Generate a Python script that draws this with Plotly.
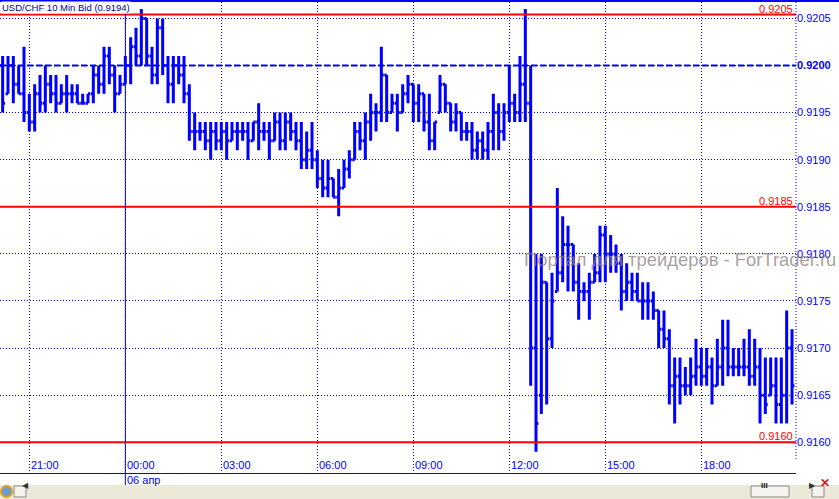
import pandas as pd
import plotly.graph_objects as go

# ---------------- data (USD/CHF, 10-minute bid bars) ----------------
start_time = "2011-04-05 20:10"
n_bars = 149
bar_times = pd.date_range(start_time, periods=n_bars, freq="10min")

bar_open = [
    0.9200, 0.9197, 0.9200, 0.9198, 0.9197, 0.9195, 0.9194, 0.9197, 0.9196, 0.9198,
    0.9197, 0.9196, 0.9197, 0.9197, 0.9197, 0.9196, 0.9196, 0.9197, 0.9199, 0.9198,
    0.9201, 0.9199, 0.9197, 0.9198, 0.9200, 0.9202, 0.9201, 0.9205, 0.9201, 0.9199,
    0.9204, 0.9200, 0.9198, 0.9200, 0.9199, 0.9197, 0.9193, 0.9193, 0.9193, 0.9192,
    0.9193, 0.9192, 0.9193, 0.9192, 0.9193, 0.9193, 0.9193, 0.9192, 0.9194, 0.9193,
    0.9193, 0.9192, 0.9194, 0.9192, 0.9194, 0.9193, 0.9192, 0.9190, 0.9191, 0.9190,
    0.9188, 0.9187, 0.9188, 0.9186, 0.9187, 0.9189, 0.9190, 0.9193, 0.9192, 0.9194,
    0.9195, 0.9195, 0.9199, 0.9195, 0.9196, 0.9195, 0.9197, 0.9198, 0.9196, 0.9197,
    0.9194, 0.9192, 0.9195, 0.9198, 0.9196, 0.9194, 0.9195, 0.9193, 0.9193, 0.9191,
    0.9192, 0.9191, 0.9193, 0.9195, 0.9193, 0.9195, 0.9196, 0.9195, 0.9198, 0.9196,
    0.9170, 0.9165, 0.9177, 0.9171, 0.9176, 0.9178, 0.9181, 0.9181, 0.9177, 0.9176,
    0.9176, 0.9177, 0.9178, 0.9182, 0.9180, 0.9180, 0.9179, 0.9176, 0.9177, 0.9176,
    0.9175, 0.9175, 0.9175, 0.9174, 0.9172, 0.9171, 0.9166, 0.9167, 0.9166, 0.9166,
    0.9167, 0.9168, 0.9167, 0.9168, 0.9166, 0.9168, 0.9170, 0.9168, 0.9168, 0.9168,
    0.9168, 0.9167, 0.9168, 0.9165, 0.9165, 0.9166, 0.9164, 0.9165, 0.9170,
]
bar_high = [
    0.9201, 0.9201, 0.9201, 0.9200, 0.9202, 0.9197, 0.9198, 0.9199, 0.9200, 0.9199,
    0.9199, 0.9198, 0.9199, 0.9198, 0.9198, 0.9197, 0.9197, 0.9200, 0.9200, 0.9202,
    0.9202, 0.9200, 0.9199, 0.9201, 0.9203, 0.9204, 0.9206, 0.9205, 0.9202, 0.9205,
    0.9205, 0.9201, 0.9201, 0.9201, 0.9201, 0.9198, 0.9195, 0.9194, 0.9194, 0.9194,
    0.9194, 0.9194, 0.9194, 0.9194, 0.9194, 0.9194, 0.9194, 0.9194, 0.9196, 0.9194,
    0.9194, 0.9195, 0.9195, 0.9195, 0.9195, 0.9194, 0.9194, 0.9193, 0.9194, 0.9191,
    0.9190, 0.9190, 0.9188, 0.9189, 0.9190, 0.9191, 0.9194, 0.9194, 0.9195, 0.9197,
    0.9196, 0.9202, 0.9199, 0.9197, 0.9197, 0.9198, 0.9199, 0.9198, 0.9198, 0.9197,
    0.9197, 0.9194, 0.9199, 0.9198, 0.9196, 0.9196, 0.9195, 0.9194, 0.9194, 0.9193,
    0.9193, 0.9194, 0.9197, 0.9196, 0.9196, 0.9200, 0.9197, 0.9201, 0.9206, 0.9200,
    0.9180, 0.9180, 0.9177, 0.9178, 0.9187, 0.9184, 0.9183, 0.9181, 0.9179, 0.9177,
    0.9178, 0.9180, 0.9183, 0.9183, 0.9182, 0.9181, 0.9180, 0.9179, 0.9178, 0.9178,
    0.9177, 0.9177, 0.9176, 0.9174, 0.9174, 0.9172, 0.9169, 0.9169, 0.9168, 0.9169,
    0.9171, 0.9170, 0.9170, 0.9169, 0.9171, 0.9173, 0.9173, 0.9170, 0.9170, 0.9171,
    0.9172, 0.9171, 0.9170, 0.9169, 0.9169, 0.9169, 0.9169, 0.9174, 0.9172,
]
bar_low = [
    0.9195, 0.9197, 0.9196, 0.9197, 0.9194, 0.9193, 0.9193, 0.9195, 0.9195, 0.9196,
    0.9195, 0.9196, 0.9195, 0.9196, 0.9196, 0.9196, 0.9196, 0.9196, 0.9197, 0.9197,
    0.9198, 0.9195, 0.9197, 0.9198, 0.9198, 0.9200, 0.9200, 0.9200, 0.9198, 0.9198,
    0.9199, 0.9196, 0.9196, 0.9198, 0.9196, 0.9192, 0.9191, 0.9192, 0.9191, 0.9190,
    0.9191, 0.9191, 0.9190, 0.9192, 0.9191, 0.9192, 0.9190, 0.9192, 0.9191, 0.9192,
    0.9190, 0.9192, 0.9191, 0.9191, 0.9192, 0.9191, 0.9189, 0.9189, 0.9189, 0.9187,
    0.9186, 0.9186, 0.9186, 0.9184, 0.9187, 0.9188, 0.9190, 0.9191, 0.9190, 0.9192,
    0.9193, 0.9194, 0.9194, 0.9195, 0.9193, 0.9195, 0.9196, 0.9194, 0.9194, 0.9193,
    0.9191, 0.9191, 0.9195, 0.9195, 0.9193, 0.9193, 0.9192, 0.9192, 0.9190, 0.9190,
    0.9190, 0.9190, 0.9191, 0.9191, 0.9192, 0.9194, 0.9194, 0.9194, 0.9194, 0.9166,
    0.9159, 0.9163, 0.9164, 0.9170, 0.9176, 0.9177, 0.9176, 0.9176, 0.9173, 0.9175,
    0.9173, 0.9177, 0.9177, 0.9177, 0.9178, 0.9178, 0.9174, 0.9175, 0.9175, 0.9175,
    0.9173, 0.9173, 0.9173, 0.9170, 0.9170, 0.9164, 0.9162, 0.9164, 0.9165, 0.9165,
    0.9166, 0.9166, 0.9166, 0.9164, 0.9166, 0.9166, 0.9167, 0.9167, 0.9167, 0.9167,
    0.9166, 0.9166, 0.9162, 0.9163, 0.9165, 0.9162, 0.9162, 0.9162, 0.9164,
]
bar_close = [
    0.9196, 0.9200, 0.9198, 0.9197, 0.9195, 0.9194, 0.9197, 0.9196, 0.9198, 0.9197,
    0.9196, 0.9197, 0.9197, 0.9197, 0.9196, 0.9196, 0.9197, 0.9199, 0.9198, 0.9201,
    0.9199, 0.9197, 0.9198, 0.9200, 0.9202, 0.9201, 0.9205, 0.9201, 0.9199, 0.9204,
    0.9200, 0.9198, 0.9200, 0.9199, 0.9197, 0.9193, 0.9193, 0.9193, 0.9192, 0.9193,
    0.9192, 0.9193, 0.9192, 0.9193, 0.9193, 0.9193, 0.9192, 0.9194, 0.9193, 0.9193,
    0.9192, 0.9194, 0.9192, 0.9194, 0.9193, 0.9192, 0.9190, 0.9191, 0.9190, 0.9188,
    0.9187, 0.9188, 0.9186, 0.9187, 0.9189, 0.9190, 0.9193, 0.9192, 0.9194, 0.9195,
    0.9195, 0.9199, 0.9195, 0.9196, 0.9195, 0.9197, 0.9198, 0.9196, 0.9197, 0.9194,
    0.9192, 0.9194, 0.9198, 0.9196, 0.9194, 0.9195, 0.9193, 0.9193, 0.9191, 0.9192,
    0.9191, 0.9193, 0.9195, 0.9193, 0.9195, 0.9196, 0.9195, 0.9198, 0.9196, 0.9170,
    0.9162, 0.9177, 0.9171, 0.9175, 0.9178, 0.9181, 0.9181, 0.9177, 0.9176, 0.9176,
    0.9177, 0.9178, 0.9182, 0.9180, 0.9180, 0.9179, 0.9176, 0.9177, 0.9176, 0.9175,
    0.9175, 0.9175, 0.9174, 0.9172, 0.9171, 0.9166, 0.9167, 0.9166, 0.9166, 0.9167,
    0.9168, 0.9167, 0.9168, 0.9166, 0.9168, 0.9170, 0.9168, 0.9168, 0.9168, 0.9168,
    0.9167, 0.9168, 0.9165, 0.9164, 0.9166, 0.9164, 0.9165, 0.9170, 0.9166,
]

price_ticks = [0.9160, 0.9165, 0.9170, 0.9175, 0.9180, 0.9185, 0.9190, 0.9195, 0.9200, 0.9205]
price_tick_text = ["0.9160", "0.9165", "0.9170", "0.9175", "0.9180", "0.9185",
                   "0.9190", "0.9195", "<b>0.9200</b>", "0.9205"]
level_lines = [0.92054, 0.9185, 0.9160]
level_labels = ["0.9205", "0.9185", "0.9160"]
dashed_level = 0.9200
time_labels = ["2011-04-05 21:00", "2011-04-06 00:00", "2011-04-06 03:00", "2011-04-06 06:00",
               "2011-04-06 09:00", "2011-04-06 12:00", "2011-04-06 15:00", "2011-04-06 18:00"]
day_start = "2011-04-06 00:00"
title_text = "USD/CHF 10 Min Bid (0.9194)"
date_text = "06 апр"
watermark = "Портал для трейдеров - ForTrader.ru"

# ---------------- figure ----------------
BLUE = "#0000FF"
RED = "#FF0000"
FONT = "Liberation Sans, Arial, sans-serif"

W, H = 839, 499
ML, MR, MT, MB = 0, 43, 2, 26
plot_w = W - ML - MR
plot_h = H - MT - MB

fig = go.Figure(go.Ohlc(
    x=bar_times, open=bar_open, high=bar_high, low=bar_low, close=bar_close,
    increasing=dict(line=dict(color=BLUE, width=3)),
    decreasing=dict(line=dict(color=BLUE, width=3)),
    tickwidth=0.45, hoverinfo="skip", showlegend=False,
))

x_start = bar_times[0] - pd.Timedelta(minutes=5)
x_end = bar_times[0] + pd.Timedelta(minutes=1487.5)

fig.update_layout(
    width=W, height=H,
    margin=dict(l=ML, r=MR, t=MT, b=MB, pad=0),
    paper_bgcolor="white", plot_bgcolor="white",
    font=dict(family=FONT, size=11, color=BLUE),
    showlegend=False,
    xaxis=dict(
        type="date", range=[x_start, x_end], rangeslider=dict(visible=False),
        tick0="2011-04-05 21:00", dtick=3 * 3600 * 1000,
        showgrid=True, gridcolor=BLUE, gridwidth=1, griddash="1px,2px",
        showticklabels=False, ticks="", zeroline=False,
        showline=True, linecolor=BLUE, linewidth=1, mirror=False,
        fixedrange=True,
    ),
    yaxis=dict(
        side="right", range=[0.915674, 0.920674],
        tickvals=price_ticks, ticktext=price_tick_text,
        showgrid=True, gridcolor=BLUE, gridwidth=1, griddash="1px,2px",
        ticks="", zeroline=False, showline=False,
        tickfont=dict(family=FONT, size=11, color=BLUE),
        fixedrange=True,
    ),
)


def py(ypix):
    """pixel row in the page -> paper y"""
    return (H - MB - ypix) / plot_h


def px(xpix):
    return (xpix - ML) / plot_w


shapes = []
# dashed 0.9200 level
shapes.append(dict(type="line", xref="paper", yref="y", x0=0, x1=1,
                   y0=dashed_level, y1=dashed_level,
                   line=dict(color=BLUE, width=2, dash="6px,3px"), layer="above"))
# red levels
for lv in level_lines:
    shapes.append(dict(type="line", xref="paper", yref="y", x0=0, x1=1, y0=lv, y1=lv,
                       line=dict(color=RED, width=2), layer="above"))
# solid day separator, continued below the axis
shapes.append(dict(type="line", xref="x", yref="paper", x0=day_start, x1=day_start,
                   y0=py(485), y1=1, line=dict(color=BLUE, width=1), layer="above"))
# right dotted border
shapes.append(dict(type="line", xref="paper", yref="paper", x0=1, x1=1,
                   y0=py(459), y1=1,
                   line=dict(color=BLUE, width=1, dash="1px,2px"), layer="above"))
# top border line across the whole width
shapes.append(dict(type="line", xref="paper", yref="paper", x0=0, x1=px(W),
                   y0=py(1), y1=py(1),
                   line=dict(color=BLUE, width=2), layer="above"))
# bottom scrollbar strip
shapes.append(dict(type="rect", xref="paper", yref="paper", x0=px(0), x1=px(W),
                   y0=py(499), y1=py(485), fillcolor="#ECE9D8", line=dict(width=0),
                   layer="above"))
# left button
shapes.append(dict(type="rect", xref="paper", yref="paper", x0=px(14), x1=px(26),
                   y0=py(497), y1=py(486), fillcolor="#F4F3EE",
                   line=dict(color="#8A8A8A", width=1), layer="above"))
# globe icon
shapes.append(dict(type="circle", xref="paper", yref="paper", x0=px(1), x1=px(12),
                   y0=py(497), y1=py(486), fillcolor="#6C9BD2",
                   line=dict(color="#D8A020", width=2), layer="above"))
# scroll thumb
shapes.append(dict(type="rect", xref="paper", yref="paper", x0=px(751), x1=px(789),
                   y0=py(497), y1=py(486), fillcolor="#F4F3EE",
                   line=dict(color="#8A8A8A", width=1), layer="above"))
# right button
shapes.append(dict(type="rect", xref="paper", yref="paper", x0=px(812), x1=px(824),
                   y0=py(497), y1=py(486), fillcolor="#F4F3EE",
                   line=dict(color="#8A8A8A", width=1), layer="above"))

annotations = []
for lv, lt in zip(level_lines, level_labels):
    annotations.append(dict(xref="paper", yref="y", x=1, y=lv, xanchor="right",
                            yanchor="bottom", text=lt, showarrow=False, xshift=-1,
                            yshift=-2,
                            font=dict(family=FONT, size=11, color=RED)))
for t in time_labels:
    annotations.append(dict(xref="x", yref="paper", x=t, y=0, xanchor="left",
                            yanchor="bottom", text=t[-5:], showarrow=False, xshift=0,
                            yshift=0,
                            font=dict(family=FONT, size=11, color=BLUE)))
annotations.append(dict(xref="x", yref="paper", x=day_start, y=py(479.5), xanchor="left",
                        yanchor="middle", text=date_text, showarrow=False, xshift=0,
                        font=dict(family=FONT, size=11, color=BLUE)))
annotations.append(dict(xref="paper", yref="paper", x=px(1), y=py(7.5), xanchor="left",
                        yanchor="middle", text=title_text, showarrow=False,
                        bgcolor="white", borderpad=0,
                        font=dict(family=FONT, size=9.5, color="#000099")))
annotations.append(dict(xref="paper", yref="y", x=px(522), y=0.91794, xanchor="left",
                        yanchor="middle", text=watermark, showarrow=False,
                        font=dict(family=FONT, size=18.4, color="rgba(140,128,128,0.75)")))
# scrollbar glyphs
annotations.append(dict(xref="paper", yref="paper", x=px(20), y=py(491.5), text="◀",
                        showarrow=False, font=dict(size=8, color="#333333")))
annotations.append(dict(xref="paper", yref="paper", x=px(818), y=py(491.5), text="▶",
                        showarrow=False, font=dict(size=8, color="#333333")))
annotations.append(dict(xref="paper", yref="paper", x=px(770), y=py(491.5), text="<b>III</b>",
                        showarrow=False, font=dict(size=8, color="#222222")))
annotations.append(dict(xref="paper", yref="paper", x=px(832), y=py(491.5), text="<b>✕</b>",
                        showarrow=False, font=dict(size=12, color="#CC2020")))

fig.update_layout(shapes=shapes, annotations=annotations)
fig.write_html("out.html",
               config={"displayModeBar": False, "staticPlot": True},
               post_script="document.body.style.margin='0px';document.body.style.overflow='hidden';")
